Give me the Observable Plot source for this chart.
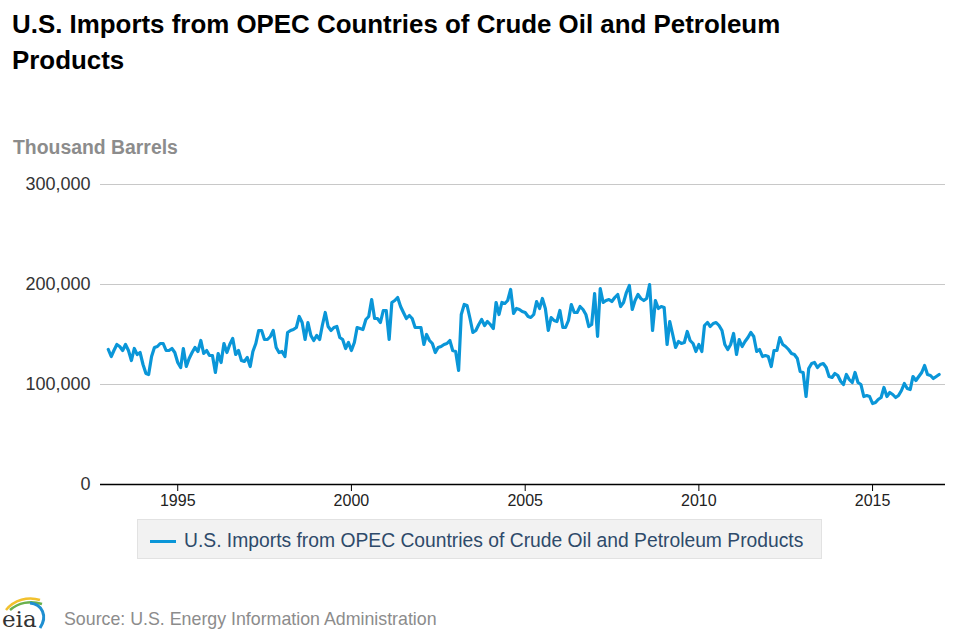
<!DOCTYPE html>
<html>
<head>
<meta charset="utf-8">
<script src="https://cdn.jsdelivr.net/npm/d3@7"></script>
<script src="https://cdn.jsdelivr.net/npm/@observablehq/plot@0.6"></script>
<style>
  html, body { margin: 0; padding: 0; background: #fff; }
  body { width: 957px; height: 636px; position: relative; overflow: hidden; font-family: "Liberation Sans", Arial, sans-serif; }
  .abs { position: absolute; white-space: nowrap; }
  #title { left: 12px; top: 6px; font-weight: bold; font-size: 25.9px; line-height: 36px; color: #000; }
  #unit { left: 13px; top: 136px; font-weight: bold; font-size: 19.4px; color: #8c8c8c; }
  #chart { left: 0; top: 160px; }
  #legend { left: 137px; top: 519px; width: 683px; height: 38px; background: #f2f2f2; border: 1px solid #e2e2e2; }
  #legend .sw { position: absolute; left: 12px; top: 20px; width: 26px; height: 3px; background: #0a96d8; }
  #legend .tx { position: absolute; left: 46px; top: 10px; font-size: 19.3px; color: #2e4a6a; }
  #source { left: 64px; top: 609px; font-size: 17.8px; color: #8c8c8c; }
  #logo { left: 0; top: 594px; }
</style>
</head>
<body>
<div id="title" class="abs">U.S. Imports from OPEC Countries of Crude Oil and Petroleum<br>Products</div>
<div id="unit" class="abs">Thousand Barrels</div>
<div id="chart" class="abs"></div>
<div id="legend" class="abs"><div class="sw"></div><div class="tx">U.S. Imports from OPEC Countries of Crude Oil and Petroleum Products</div></div>
<svg id="logo" class="abs" width="50" height="40" viewBox="0 0 50 40">
  <path d="M6 16 C 14 6, 28 2, 40 6" fill="none" stroke="#f2c12e" stroke-width="2.5"/>
  <path d="M10 16 C 18 9, 30 6, 42 10" fill="none" stroke="#6ab04c" stroke-width="2.5"/>
  <path d="M30 9 C 42 10, 48 22, 40 34" fill="none" stroke="#1f8fd1" stroke-width="3"/>
  <text x="2" y="33" font-family="'DejaVu Serif', 'Liberation Serif', serif" font-size="23" fill="#333">eia</text>
</svg>
<div id="source" class="abs">Source: U.S. Energy Information Administration</div>
<script>
// Monthly values (thousand barrels, in thousands), Jan 1993 .. Dec 2016
const startYear = 1993;
const values = [
  // 1993
  135,128,134,140,138,134,140,134,124,136,130,132,
  // 1994
  120,111,110,128,137,138,141,141,134,134,136,132,
  // 1995
  122,117,136,118,126,132,137,133,144,131,134,129,
  // 1996
  129,112,131,122,141,132,140,146,130,134,124,123,
  // 1997
  127,118,133,141,154,154,145,145,148,154,137,132,
  // 1998
  133,128,152,154,155,157,168,162,145,162,149,144,
  // 1999
  149,145,159,172,158,154,157,158,147,145,136,142,
  // 2000
  134,142,157,156,155,165,168,185,166,166,162,174,
  // 2001
  174,145,182,184,187,178,172,166,169,166,157,157,
  // 2002
  157,140,150,144,141,132,137,138,140,141,144,134,
  // 2003
  133,114,170,180,179,166,152,154,160,165,159,163,
  // 2004
  160,156,182,170,182,181,184,195,171,176,175,173,
  // 2005
  172,168,167,170,183,176,186,176,154,167,164,163,
  // 2006
  174,157,157,164,180,172,172,178,175,170,158,160,
  // 2007
  191,148,196,182,184,185,183,187,190,178,182,192,
  // 2008
  199,175,184,190,186,184,186,200,154,184,176,178,
  // 2009
  177,140,163,150,137,143,141,142,153,144,141,133,
  // 2010
  140,133,159,162,158,161,162,159,154,140,135,140,
  // 2011
  151,130,145,138,143,147,152,148,133,135,128,129,
  // 2012
  128,118,134,134,147,140,138,135,131,130,126,113,
  // 2013
  112,88,116,121,122,117,120,121,117,108,107,111,
  // 2014
  109,103,100,110,105,102,112,102,100,88,89,88,
  // 2015
  81,82,85,87,97,88,92,90,87,89,94,101,
  // 2016
  96,95,108,104,108,112,119,110,109,106,108,110
];
const yTicks = [0, 100000, 200000, 300000];
const xTickYears = [1995, 2000, 2005, 2010, 2015];
const seriesName = "U.S. Imports from OPEC Countries of Crude Oil and Petroleum Products";

const data = values.map((v, i) => ({ date: new Date(Date.UTC(startYear, i, 1)), value: v * 1000 }));
const xTicks = xTickYears.map(y => new Date(Date.UTC(y, 0, 1)));

const chart = Plot.plot({
  width: 957,
  height: 350,
  marginLeft: 100,
  marginRight: 12,
  marginTop: 24,
  marginBottom: 26,
  style: { fontFamily: "'Liberation Sans', Arial, sans-serif", background: "transparent", overflow: "visible" },
  x: { type: "utc", domain: [new Date(Date.UTC(1992, 9, 11)), new Date(Date.UTC(2017, 1, 6))] },
  y: { domain: [0, 300000] },
  marks: [
    Plot.ruleY(yTicks.filter(d => d > 0), { stroke: "#c8c8c8", strokeWidth: 1.2 }),
    Plot.axisY(yTicks, { tickSize: 0, tickPadding: 10, tickFormat: d3.format(","), fontSize: 18, fill: "#333", label: null }),
    Plot.axisX(xTicks, { tickSize: 7, tickPadding: 3, tickFormat: d3.utcFormat("%Y"), fontSize: 16, fill: "#222", stroke: "#000", label: null }),
    Plot.lineY(data, { x: "date", y: "value", stroke: "#0a96d8", strokeWidth: 3.2, strokeLinejoin: "round", title: () => seriesName }),
    Plot.ruleY([0], { stroke: "#000", strokeWidth: 1.5 })
  ]
});
document.getElementById("chart").appendChild(chart);
</script>
</body>
</html>
